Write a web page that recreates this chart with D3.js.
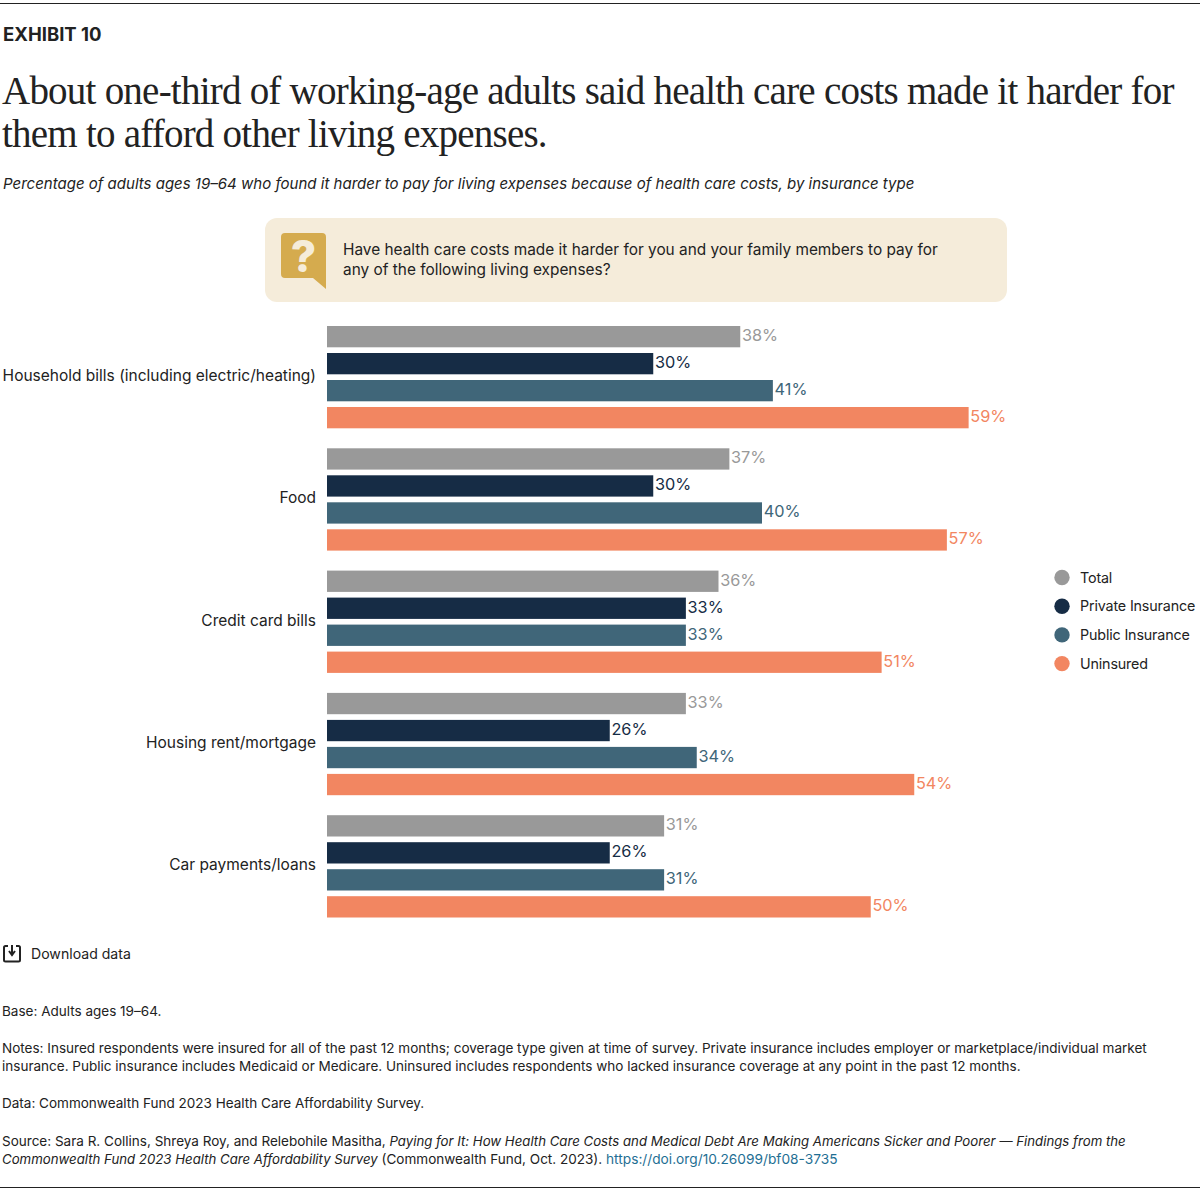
<!DOCTYPE html>
<html><head><meta charset="utf-8">
<script src="https://cdn.jsdelivr.net/npm/d3@7"></script>
<style>
html,body{margin:0;padding:0;background:#fff}
svg{display:block}
text{font-family:Inter,"Noto Sans",sans-serif;fill:#222}
</style></head><body><svg id="c" width="1200" height="1190"></svg>
<script>
const categories=["Household bills (including electric/heating)","Food","Credit card bills","Housing rent/mortgage","Car payments/loans"];
const seriesNames=["Total","Private Insurance","Public Insurance","Uninsured"];
const totalValues=[38,37,36,33,31];
const privateValues=[30,30,33,26,26];
const publicValues=[41,40,33,34,31];
const uninsuredValues=[59,57,51,54,50];
const seriesValues=[totalValues,privateValues,publicValues,uninsuredValues];
const barColors=["#999999","#162c45","#406679","#f28661"];
const labelColors=["#999999","#162c45","#406679","#f28661"];
const titleLines=["About one-third of working-age adults said health care costs made it harder for","them to afford other living expenses."];
const subtitle="Percentage of adults ages 19–64 who found it harder to pay for living expenses because of health care costs, by insurance type";
const questionLines=["Have health care costs made it harder for you and your family members to pay for","any of the following living expenses?"];

const svg=d3.select("#c");
const line=(y)=>svg.append("rect").attr("x",0).attr("y",y).attr("width",1200).attr("height",1).attr("fill","#222");
line(3);line(1187);

svg.append("text").attr("x",3).attr("y",40.5).attr("font-size",18.5).attr("font-weight",700).text("EXHIBIT 10");
svg.selectAll(".t").data(titleLines).join("text").attr("x",2).attr("y",(d,i)=>104+i*43)
 .attr("font-size",39).attr("letter-spacing",-0.77).style("font-family","'Liberation Serif',serif").style("fill","#222").text(d=>d);
svg.append("text").attr("x",3).attr("y",189).attr("font-size",15.03).attr("font-style","italic").text(subtitle);

svg.append("rect").attr("x",265).attr("y",218).attr("width",742).attr("height",84).attr("rx",12).attr("fill","#f5ecda");
svg.append("path").attr("d","M285 233H322Q326 233 326 237V289L313 278H285Q281 278 281 274V237Q281 233 285 233Z").attr("fill","#d5ab4e");
svg.append("text").attr("x",303.5).attr("y",272).attr("text-anchor","middle").attr("font-size",44).attr("font-weight",800).style("fill","#f5ecda").text("?");
svg.selectAll(".q").data(questionLines).join("text").attr("x",343).attr("y",(d,i)=>255+i*20).attr("font-size",15.4).text(d=>d);

const x=d3.scaleLinear().domain([0,60]).range([327,979.5]);
const y0=d3.scaleBand().domain(categories).range([322.6,934.1]).paddingInner(0).paddingOuter(0);
const y1=d3.scaleBand().domain(seriesNames).range([3.4,105.7]).paddingInner(0.211).paddingOuter(0);

const g=svg.selectAll(".grp").data(categories).join("g").attr("transform",d=>`translate(0,${y0(d)})`);
g.append("text").attr("x",316).attr("y",58.4).attr("text-anchor","end").attr("font-size",15.5).text(d=>d);
seriesNames.forEach((s,si)=>{
  g.append("rect").attr("x",x(0)).attr("y",y1(s)).attr("height",y1.bandwidth())
   .attr("width",(d,i)=>x(seriesValues[si][i])-x(0)).attr("fill",barColors[si]);
  g.append("text").attr("x",(d,i)=>x(seriesValues[si][i])+1.7).attr("y",y1(s)+y1.bandwidth()/2+4.4)
   .attr("font-size",16.3).style("fill",labelColors[si]).text((d,i)=>seriesValues[si][i]+"%");
});

const lg=svg.selectAll(".lg").data(seriesNames).join("g").attr("transform",(d,i)=>`translate(0,${577.5+i*28.7})`);
lg.append("circle").attr("cx",1062).attr("r",7.7).attr("fill",(d,i)=>barColors[i]);
lg.append("text").attr("x",1080).attr("y",5).attr("font-size",14.3).attr("letter-spacing",-0.15).text(d=>d);

svg.append("path").attr("d","M8 946H5.5Q4 946 4 947.5V960Q4 961.5 5.5 961.5H18.5Q20 961.5 20 960V947.5Q20 946 18.5 946H16M12 945V954M9 951L12 955L15 951").attr("fill","none").attr("stroke","#222").attr("stroke-width",2);
svg.append("text").attr("x",31).attr("y",959).attr("font-size",14.1).text("Download data");

const fs=13.53;
const note=(y,parts)=>{const t=svg.append("text").attr("x",2).attr("y",y).attr("font-size",fs);
 parts.forEach(p=>{const s=t.append("tspan").text(p.t); if(p.i)s.attr("font-style","italic").attr("font-size",13.22); if(p.c)s.style("fill",p.c).attr("font-size",13.72);});};
note(1016,[{t:"Base: Adults ages 19–64."}]);
note(1053,[{t:"Notes: Insured respondents were insured for all of the past 12 months; coverage type given at time of survey. Private insurance includes employer or marketplace/individual market"}]);
note(1071,[{t:"insurance. Public insurance includes Medicaid or Medicare. Uninsured includes respondents who lacked insurance coverage at any point in the past 12 months."}]);
note(1108,[{t:"Data: Commonwealth Fund 2023 Health Care Affordability Survey."}]);
note(1146,[{t:"Source: Sara R. Collins, Shreya Roy, and Relebohile Masitha, "},{t:"Paying for It: How Health Care Costs and Medical Debt Are Making Americans Sicker and Poorer — Findings from the",i:1}]);
note(1164,[{t:"Commonwealth Fund 2023 Health Care Affordability Survey",i:1},{t:" (Commonwealth Fund, Oct. 2023). "},{t:"https://doi.org/10.26099/bf08-3735",c:"#1f6f94"}]);
</script></body></html>
